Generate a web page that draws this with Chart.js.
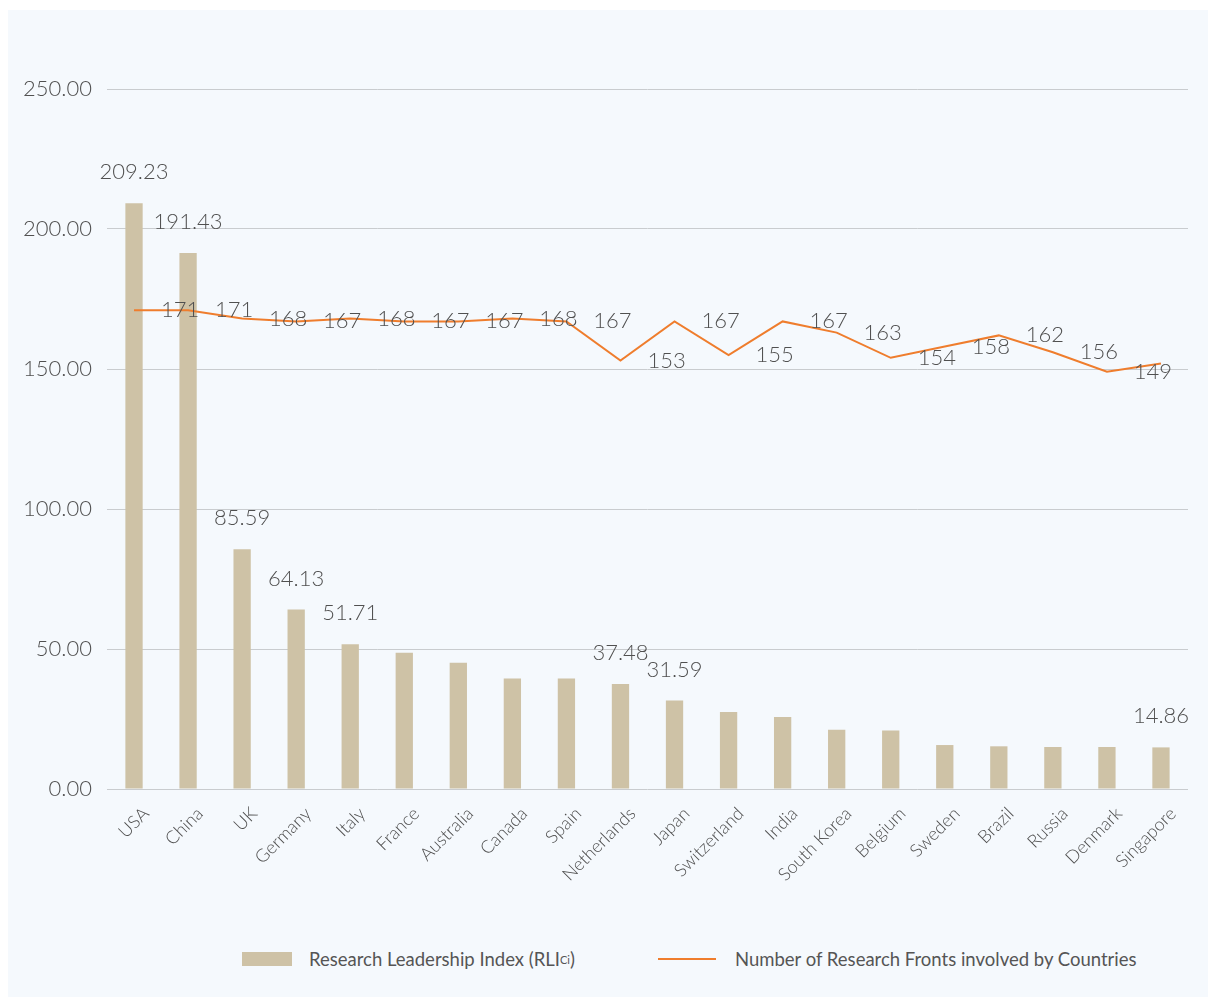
<!DOCTYPE html>
<html>
<head>
<meta charset="utf-8">
<script src="https://cdn.jsdelivr.net/npm/chart.js@4"></script>
<style>
  body { margin: 0; background: #ffffff; font-family: Lato, "Open Sans", sans-serif; }
  #panel { position: absolute; left: 8px; top: 10px; width: 1200px; height: 987px; background: #f5f9fd; }
  #chartBox { position: absolute; left: 0; top: 0; width: 1200px; height: 900px; }
  #legend { position: absolute; top: 937px; left: 0; width: 1200px; height: 24px; color: #555; font-size: 18.5px; }
  .item { position: absolute; top: 0; display: flex; align-items: center; height: 24px; }
  .swatchBar { width: 50px; height: 14px; background: #cec2a6; margin-right: 17px; }
  .swatchLine { width: 58px; height: 2px; background: #ef7d2d; margin-right: 19px; }
  sub { font-size: 11px; }
</style>
</head>
<body>
<div id="panel">
  <div id="chartBox"><canvas id="leadershipChart"></canvas></div>
  <div id="legend">
    <div class="item" style="left:234px"><span class="swatchBar"></span>Research Leadership Index (RLI<sub>Ci</sub>)</div>
    <div class="item" style="left:650px"><span class="swatchLine"></span>Number of Research Fronts involved by Countries</div>
  </div>
</div>
<script>
// Countries on the x axis
const countries = ['USA', 'China', 'UK', 'Germany', 'Italy', 'France', 'Australia', 'Canada', 'Spain', 'Netherlands',
  'Japan', 'Switzerland', 'India', 'South Korea', 'Belgium', 'Sweden', 'Brazil', 'Russia', 'Denmark', 'Singapore'];

// Research Leadership Index (bars)
const leadershipIndex = [209.23, 191.43, 85.59, 64.13, 51.71, 48.7, 45.1, 39.5, 39.5, 37.48,
  31.59, 27.5, 25.7, 21.2, 20.9, 15.7, 15.25, 15.0, 15.0, 14.86];

// Number of research fronts (line)
const frontsCount = [171, 171, 168, 167, 168, 167, 167, 168, 167, 153,
  167, 155, 167, 163, 154, 158, 162, 156, 149, 152];

// Bars that carry a value label
const labeledBars = [0, 1, 2, 3, 4, 9, 10, 19];

// Y axis ticks
const yTicks = [0, 50, 100, 150, 200, 250];

const textColor = '#505050';

// Draws value labels for bars and the line
const valueLabels = {
  id: 'valueLabels',
  afterDatasetsDraw(chart) {
    const ctx = chart.ctx;
    const x = chart.scales.x;
    const y = chart.scales.y;
    ctx.save();
    ctx.fillStyle = textColor;
    ctx.font = '300 22px Lato';
    ctx.textAlign = 'center';
    ctx.textBaseline = 'middle';
    const bars = chart.getDatasetMeta(0).data;
    labeledBars.forEach(i => {
      ctx.fillText(leadershipIndex[i].toFixed(2), bars[i].x, bars[i].y - 31);
    });
    // line labels sit one category to the right of their point
    for (let i = 0; i < frontsCount.length - 1; i++) {
      ctx.fillText(String(frontsCount[i]), x.getPixelForValue(i + 1) - 8, y.getPixelForValue(frontsCount[i]));
    }
    ctx.restore();
  }
};

new Chart(document.getElementById('leadershipChart').getContext('2d'), {
  type: 'bar',
  data: {
    labels: countries,
    datasets: [
      {
        type: 'bar',
        label: 'Research Leadership Index (RLI Ci)',
        data: leadershipIndex,
        backgroundColor: '#cec2a6',
        barPercentage: 0.64,
        categoryPercentage: 0.5,
        order: 2
      },
      {
        type: 'line',
        label: 'Number of Research Fronts involved by Countries',
        data: frontsCount,
        borderColor: '#ef7d2d',
        borderWidth: 2,
        pointRadius: 0,
        tension: 0,
        fill: false,
        order: 1
      }
    ]
  },
  options: {
    responsive: true,
    maintainAspectRatio: false,
    animation: false,
    layout: { padding: { top: 79, right: 20, left: 0, bottom: 0 } },
    plugins: {
      legend: { display: false },
      tooltip: { enabled: false }
    },
    scales: {
      x: {
        grid: { display: false, drawTicks: false },
        border: { display: false },
        ticks: {
          color: textColor,
          font: { family: 'Lato', size: 18, weight: '300' },
          minRotation: 45,
          maxRotation: 45,
          labelOffset: 12,
          padding: 14
        },
        afterFit(s) { s.height = 121; }
      },
      y: {
        min: 0,
        max: 250,
        afterBuildTicks(s) { s.ticks = yTicks.map(v => ({ value: v })); },
        grid: { color: '#c9cccf', lineWidth: 1, drawTicks: false },
        border: { display: false },
        ticks: {
          color: textColor,
          font: { family: 'Lato', size: 22, weight: '300' },
          padding: 15,
          callback: v => v.toFixed(2)
        },
        afterFit(s) { s.width = 99; }
      }
    }
  },
  plugins: [valueLabels]
});
</script>
</body>
</html>
